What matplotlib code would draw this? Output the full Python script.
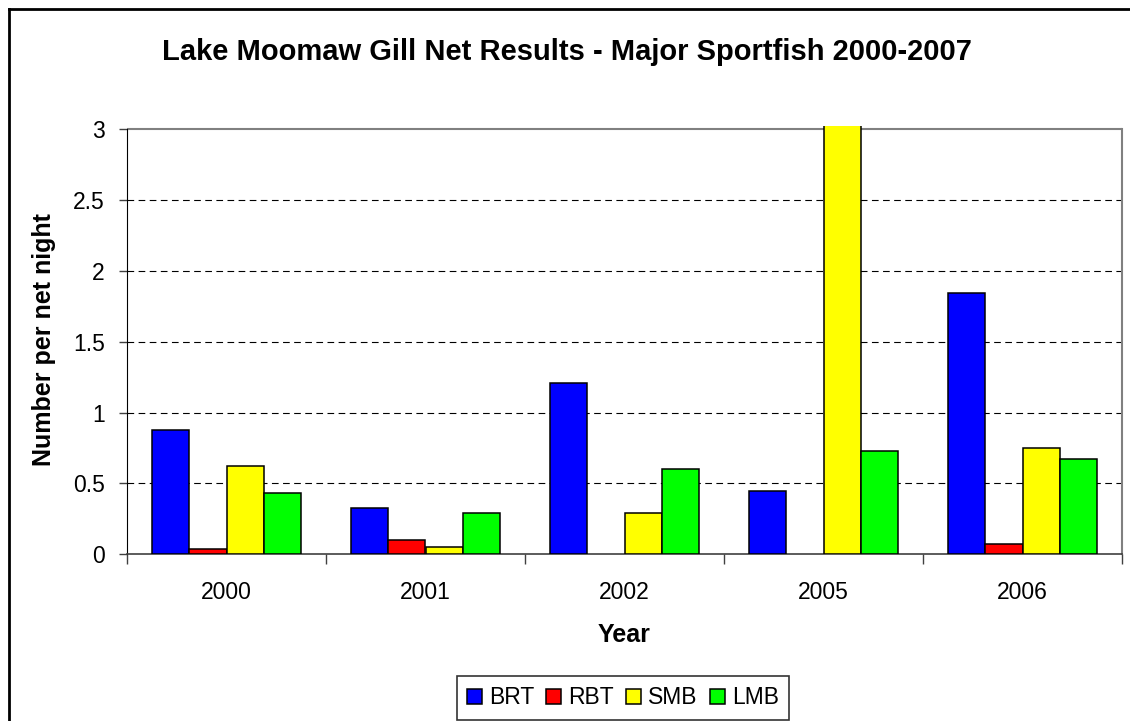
import numpy as np
import matplotlib
matplotlib.use("Agg")
import matplotlib.pyplot as plt
from matplotlib.lines import Line2D

plt.rcParams['font.family'] = ['Liberation Sans', 'DejaVu Sans']

# datos
years = ['2000', '2001', '2002', '2005', '2006']
species = ['BRT', 'RBT', 'SMB', 'LMB']
brt = [0.88, 0.33, 1.21, 0.45, 1.84]
rbt = [0.04, 0.10, np.nan, np.nan, 0.07]
smb = [0.62, 0.05, 0.29, 3.50, 0.75]
lmb = [0.43, 0.29, 0.60, 0.73, 0.67]
colores = ['#0000FF', '#FF0000', '#FFFF00', '#00FF00']

series = [brt, rbt, smb, lmb]

fig = plt.figure(figsize=(11.3, 7.21), dpi=100)
ax = fig.add_axes([127/1130, 1 - 554.3/721, (1122 - 127)/1130, (554.3 - 125.5)/721])

x = np.arange(len(years))
ancho = 0.1865
for i, (vals, col, nombre) in enumerate(zip(series, colores, species)):
    ax.bar(x + (i - 1.5) * ancho, vals, width=ancho, color=col,
           edgecolor='black', linewidth=1.1, label=nombre, zorder=3)

ax.set_xlim(-0.5, len(years) - 0.5)
ax.set_ylim(0, 3.025)
ax.set_yticks([0, 0.5, 1, 1.5, 2, 2.5, 3])
ax.set_yticklabels(['0', '0.5', '1', '1.5', '2', '2.5', '3'])

# lineas de cuadricula discontinuas
for g in [0.5, 1, 1.5, 2, 2.5]:
    ax.axhline(g, color='black', linewidth=0.8, linestyle=(0, (6, 4)), zorder=1)
ax.axhline(3, color='#808080', linewidth=1.5, zorder=1)

# marcas de categoria entre grupos
ax.set_xticks(np.arange(-0.5, len(years)), minor=False)
ax.set_xticklabels([''] * (len(years) + 1))
ax.set_xticks(x, minor=True)
ax.set_xticklabels(years, minor=True)
ax.tick_params(axis='x', which='major', length=7, width=1, color='#404040', direction='out')
ax.tick_params(axis='x', which='minor', length=0, labelsize=16.5, pad=19)
ax.tick_params(axis='y', length=6, width=1, color='#404040', direction='out', labelsize=16.5, pad=10)

ax.spines['top'].set_visible(False)
ax.spines['right'].set_color('#808080')
ax.spines['right'].set_linewidth(1.5)
ax.spines['right'].set_bounds(0, 3)
ax.spines['left'].set_color('black')
ax.spines['left'].set_bounds(0, 3)
ax.spines['bottom'].set_color('#404040')
ax.spines['bottom'].set_linewidth(1.2)

ax.set_xlabel('Year', fontsize=18, fontweight='bold', labelpad=14)
ax.set_ylabel('Number per net night', fontsize=18, fontweight='bold', labelpad=12)

fig.text(567/1130, 1 - 52/721, 'Lake Moomaw Gill Net Results - Major Sportfish 2000-2007',
         ha='center', va='center', fontsize=21, fontweight='bold')

leg = fig.legend(loc='center', bbox_to_anchor=(623/1130, 1 - 698/721), ncol=4,
                 fontsize=16.5, frameon=True, fancybox=False, edgecolor='black',
                 handlelength=0.65, handleheight=0.65, handletextpad=0.3,
                 columnspacing=0.55, borderpad=0.45, borderaxespad=0)
leg.get_frame().set_linewidth(1.2)

# borde exterior del grafico (solo izquierda y arriba visibles)
bx, by = 8.5/1130, 1 - 8.5/721
fig.lines.append(Line2D([bx, bx], [0, by], transform=fig.transFigure, color='black', linewidth=2))
fig.lines.append(Line2D([bx, 1], [by, by], transform=fig.transFigure, color='black', linewidth=2))

fig.savefig('out.png', dpi=100)
